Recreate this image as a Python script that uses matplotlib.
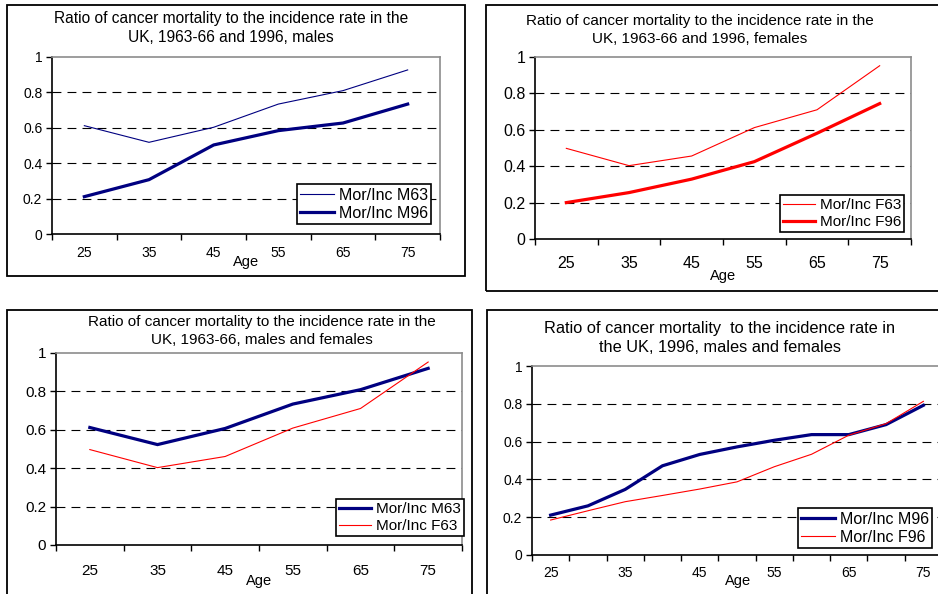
import matplotlib.pyplot as plt
from matplotlib.patches import Rectangle

plt.rcParams['font.family'] = ['Liberation Sans', 'DejaVu Sans']

W, H = 938, 594

ages = ['25', '35', '45', '55', '65', '75']
ages_5yr = ['25', '30', '35', '40', '45', '50', '55', '60', '65', '70', '75']

# males, 1963-66 and 1996
m63 = [0.612, 0.518, 0.603, 0.734, 0.81, 0.927]
m96 = [0.211, 0.307, 0.503, 0.584, 0.627, 0.734]
# females, 1963-66 and 1996
f63 = [0.498, 0.403, 0.456, 0.612, 0.71, 0.952]
f96 = [0.20, 0.255, 0.329, 0.425, 0.581, 0.744]
# 1963-66 males and females
m63_b = [0.612, 0.523, 0.607, 0.734, 0.809, 0.92]
f63_b = [0.497, 0.403, 0.461, 0.609, 0.711, 0.953]
# 1996 males and females, 5 year groups
m96_5yr = [0.211, 0.26, 0.347, 0.472, 0.532, 0.572, 0.607, 0.637, 0.637, 0.69, 0.792]
f96_5yr = [0.185, 0.234, 0.282, 0.315, 0.349, 0.387, 0.467, 0.533, 0.634, 0.695, 0.813]

NAVY = '#000080'
RED = '#ff0000'

fig = plt.figure(figsize=(W / 100, H / 100), dpi=100)


def fx(x):
    return x / W


def fy(y):
    return 1 - y / H


def panel(box, area, title, title_xy, title_fs, title_ls, cats, series, label_step,
          tick_fs, tick_y, age_xy, leg_xy, leg_fs):
    x0, y0, x1, y1 = box
    fig.patches.append(Rectangle((fx(x0), fy(y1)), (x1 - x0) / W, (y1 - y0) / H,
                                 transform=fig.transFigure, fill=False,
                                 ec='black', lw=1.3))
    ax = fig.add_axes([fx(area[0]), fy(area[3]),
                       (area[2] - area[0]) / W, (area[3] - area[1]) / H])
    n = len(cats)
    pos = list(range(n))
    for vals, color, lw, lab in series:
        ax.plot(pos, vals, color=color, lw=lw, label=lab, solid_joinstyle='miter')
    for g in [0.2, 0.4, 0.6, 0.8]:
        ax.axhline(g, color='black', lw=0.8, ls=(0, (8, 5.5)), zorder=0)
    ax.set_xlim(-0.5, n - 0.5)
    ax.set_ylim(0, 1)
    ax.set_yticks([0, 0.2, 0.4, 0.6, 0.8, 1.0])
    ax.set_yticklabels(['0', '0.2', '0.4', '0.6', '0.8', '1'])
    ax.set_xticks([i - 0.5 for i in range(n + 1)])
    ax.set_xticklabels([])
    ax.set_xticks(pos[::label_step], minor=True)
    ax.set_xticklabels(cats[::label_step], minor=True)
    pad = (tick_y - area[3] - 0.55 * tick_fs * 100 / 72) * 0.72
    ax.tick_params(axis='x', which='minor', length=0, pad=pad, labelsize=tick_fs)
    ax.tick_params(axis='x', which='major', direction='out', length=4, width=1)
    ax.tick_params(axis='y', direction='out', length=4, width=1, pad=3,
                   labelsize=tick_fs)
    for s in ['left', 'bottom']:
        ax.spines[s].set_linewidth(1.2)
    for s in ['top', 'right']:
        ax.spines[s].set_color('#8c8c8c')
        ax.spines[s].set_linewidth(1.2)
    fig.text(fx(title_xy[0]), fy(title_xy[1]), title, ha='center', va='center',
             fontsize=title_fs, linespacing=title_ls)
    fig.text(fx(age_xy[0]), fy(age_xy[1]), 'Age', ha='center', va='center',
             fontsize=10.5)
    leg = ax.legend(loc='lower left', bbox_to_anchor=(fx(leg_xy[0]), fy(leg_xy[1])),
                    bbox_transform=fig.transFigure, fontsize=leg_fs, frameon=True,
                    fancybox=False, edgecolor='black', framealpha=1,
                    handlelength=2.1, handletextpad=0.3, borderpad=0.2,
                    labelspacing=0.2, borderaxespad=0)
    leg.get_frame().set_linewidth(1.2)
    return ax


panel((7, 5, 465, 276), (52, 57, 440, 234),
      'Ratio of cancer mortality to the incidence rate in the\nUK, 1963-66 and 1996, males',
      (231, 28), 11.2, 1.28, ages,
      [(m63, NAVY, 0.8, 'Mor/Inc M63'), (m96, NAVY, 2.3, 'Mor/Inc M96')],
      1, 10, 254, (246, 262), (297, 224), 11.5)

panel((486, 5, 960, 291), (535, 57, 911, 239),
      'Ratio of cancer mortality to the incidence rate in the\nUK, 1963-66 and 1996, females',
      (700, 30), 11, 1.3, ages,
      [(f63, RED, 0.8, 'Mor/Inc F63'), (f96, RED, 2.3, 'Mor/Inc F96')],
      1, 11.5, 265, (723, 276), (780, 232), 11)

panel((7, 310, 472, 620), (56, 353, 462, 545),
      'Ratio of cancer mortality to the incidence rate in the\nUK, 1963-66, males and females',
      (262, 331), 11, 1.3, ages,
      [(m63_b, NAVY, 2.3, 'Mor/Inc M63'), (f63_b, RED, 0.8, 'Mor/Inc F63')],
      1, 11, 572, (259, 581), (336, 536), 11)

panel((487, 310, 960, 620), (532, 366, 942, 555),
      'Ratio of cancer mortality  to the incidence rate in\nthe UK, 1996, males and females',
      (720, 338), 11.8, 1.34, ages_5yr,
      [(m96_5yr, NAVY, 2.3, 'Mor/Inc M96'), (f96_5yr, RED, 0.8, 'Mor/Inc F96')],
      2, 10, 574, (738, 581), (798, 548), 11.5)

fig.savefig('out.png', dpi=100)
